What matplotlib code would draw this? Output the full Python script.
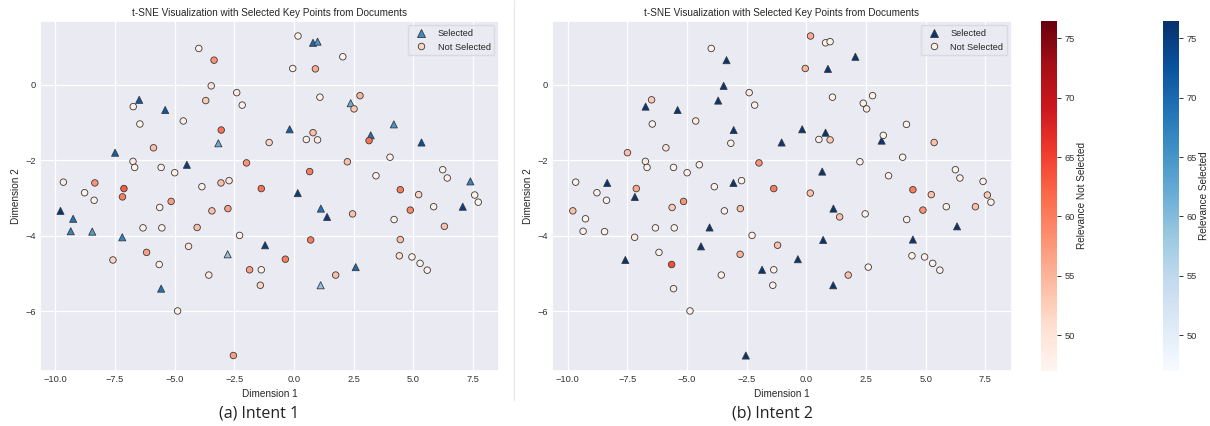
import numpy as np
import matplotlib
matplotlib.use("Agg")
import matplotlib.pyplot as plt
import seaborn as sns
from matplotlib.colors import Normalize
from matplotlib.cm import ScalarMappable
from matplotlib.lines import Line2D

sns.set_theme(style="darkgrid")
plt.rcParams['font.family'] = ['Liberation Sans', 'DejaVu Sans']

# ---- t-SNE coordinates (shared by both intents) ----
tsne_x = [-3.99, -3.35, -0.05, 0.17, -3.47, -3.70, -2.40, -2.17, -6.49, -6.74,
          -5.40, -6.46, -4.64, -3.05, -3.17, -1.04, -0.18, -7.50, -5.89, -6.75,
          -6.68, -5.57, -5.00, -4.49, -1.99, -9.67, -8.78, -8.35, -8.38, -7.13,
          -7.19, -3.86, -3.06, -2.72, -1.37, 0.16, -5.15, -5.63, -3.44, -2.77,
          -9.79, -9.26, -9.36, -8.46, -7.20, -7.59, -6.33, -5.54, -6.18, -5.65,
          -5.57, -4.88, -4.06, -4.42, -3.57, -2.28, -2.78, -1.86, -1.37, -1.41,
          -1.21, -0.36, -2.54, 0.80, 0.99, 2.05, 0.90, 1.09, 2.77, 2.38,
          2.52, 4.19, 0.80, 0.52, 0.99, 3.22, 3.15, 5.35, 4.03, 2.24,
          0.66, 3.44, 6.24, 6.43, 7.40, 4.46, 5.23, 7.58, 7.73, 5.86,
          7.08, 4.88, 1.13, 1.39, 2.46, 4.20, 6.31, 0.70, 4.46, 4.42,
          4.95, 5.29, 5.59, 2.59, 1.75, 1.12]
tsne_y = [0.96, 0.65, 0.43, 1.29, -0.03, -0.42, -0.21, -0.54, -0.40, -0.58,
          -0.67, -1.04, -0.96, -1.20, -1.55, -1.53, -1.18, -1.80, -1.67, -2.03,
          -2.19, -2.19, -2.33, -2.12, -2.07, -2.58, -2.86, -2.60, -3.06, -2.75,
          -2.97, -2.70, -2.60, -2.54, -2.75, -2.87, -3.09, -3.25, -3.34, -3.28,
          -3.34, -3.55, -3.88, -3.89, -4.04, -4.64, -3.79, -3.79, -4.44, -4.76,
          -5.40, -5.99, -3.78, -4.28, -5.04, -3.99, -4.49, -4.90, -4.90, -5.31,
          -4.25, -4.62, -7.17, 1.11, 1.14, 0.74, 0.42, -0.33, -0.29, -0.49,
          -0.64, -1.05, -1.27, -1.45, -1.46, -1.34, -1.48, -1.53, -1.92, -2.04,
          -2.30, -2.41, -2.25, -2.47, -2.56, -2.78, -2.91, -2.92, -3.11, -3.23,
          -3.23, -3.32, -3.28, -3.50, -3.42, -3.57, -3.75, -4.11, -4.10, -4.53,
          -4.56, -4.73, -4.91, -4.83, -5.04, -5.31]

# ---- Intent 1 ----
intent1_selected = [9, 11, 15, 17, 18, 24, 36, 41, 42, 43, 44, 45, 51, 57, 61,
                    64, 65, 70, 72, 76, 78, 85, 91, 93, 94, 104, 106]
intent1_relevance = [48, 58, 48, 48, 50, 53, 49, 48, 72, 48,
                     72, 48, 48, 61, 62, 52, 71, 71, 54, 49,
                     48, 48, 48, 75, 58, 49, 48, 58, 48, 63,
                     60, 48, 54, 50, 61, 75, 57, 48, 54, 57,
                     76, 69, 67, 64, 67, 52, 48, 48, 57, 48,
                     69, 48, 54, 50, 49, 48, 59, 57, 48, 52,
                     75, 60, 57, 70, 65, 48, 56, 48, 55, 62,
                     53, 65, 54, 48, 49, 69, 61, 73, 48, 54,
                     60, 48, 48, 48, 67, 60, 52, 48, 48, 48,
                     75, 59, 69, 75, 54, 48, 54, 60, 54, 51,
                     48, 48, 48, 70, 54, 59]

# ---- Intent 2 ----
intent2_selected = [2, 5, 6, 10, 11, 14, 16, 17, 28, 31, 33, 46, 53, 54, 58,
                    62, 63, 66, 67, 73, 77, 81, 93, 97, 98, 99, 106]
intent2_relevance = [48, 76, 55, 56, 76, 76, 49, 48, 53, 76,
                     76, 48, 49, 76, 48, 76, 76, 54, 50, 49,
                     48, 48, 48, 48, 58, 48, 48, 76, 48, 56,
                     76, 48, 76, 48, 60, 54, 58, 53, 48, 54,
                     54, 48, 48, 48, 49, 76, 48, 48, 48, 64,
                     49, 48, 76, 76, 48, 48, 55, 76, 48, 48,
                     54, 76, 76, 48, 48, 76, 76, 48, 48, 48,
                     49, 48, 76, 48, 53, 48, 76, 54, 48, 48,
                     76, 48, 48, 48, 48, 60, 54, 53, 48, 48,
                     54, 58, 76, 54, 48, 48, 76, 76, 76, 48,
                     48, 48, 48, 48, 54, 76]

captions = ["(a) Intent 1", "(b) Intent 2"]
title_text = "t-SNE Visualization with Selected Key Points from Documents"
x_ticks = [-10.0, -7.5, -5.0, -2.5, 0.0, 2.5, 5.0, 7.5]
y_ticks = [-6, -4, -2, 0]
cbar_ticks = [50, 55, 60, 65, 70, 75]
vmin, vmax = 47.0, 76.5

# legend swatch values (colour of the legend markers)
legend_values = [(66, 52), (76, 48)]

X = np.array(tsne_x)
Y = np.array(tsne_y)
norm = Normalize(vmin=vmin, vmax=vmax)
cm_sel = plt.get_cmap("Blues")
cm_not = plt.get_cmap("Reds")

W, H = 1210, 426
fig = plt.figure(figsize=(W / 100, H / 100), dpi=100)

def fx(px):
    return px / W

def fy(py):
    return 1 - py / H

ax_top, ax_bot = 20.7, 371.0
panels = [(40.0, 499.0), (552.3, 1011.7)]
edge = "#3a3a3a"
for i, (sel_idx, rel) in enumerate([(intent1_selected, intent1_relevance),
                                    (intent2_selected, intent2_relevance)]):
    l, r = panels[i]
    ax = fig.add_axes([fx(l), fy(ax_bot), (r - l) / W, (ax_bot - ax_top) / H])
    rel = np.array(rel, dtype=float)
    sel = np.zeros(len(X), dtype=bool)
    sel[np.array(sel_idx) - 1] = True
    ax.scatter(X[sel], Y[sel], c=rel[sel], cmap=cm_sel, norm=norm, marker="^",
               s=26, edgecolors=edge, linewidths=0.6, zorder=3)
    ax.scatter(X[~sel], Y[~sel], c=rel[~sel], cmap=cm_not, norm=norm, marker="o",
               s=22, edgecolors=edge, linewidths=0.6, zorder=4)
    ax.set_xlim(-10.65, 8.6)
    ax.set_ylim(-7.58, 1.695)
    ax.set_xticks(x_ticks)
    ax.set_xticklabels([f"{t:.1f}".replace("-", "\u2212") for t in x_ticks])
    ax.set_yticks(y_ticks)
    ax.set_yticklabels([f"{t}".replace("-", "\u2212") for t in y_ticks])
    ax.tick_params(labelsize=6.7, colors="#333333", pad=3.2, length=0)
    ax.set_xlabel("Dimension 1", fontsize=7.2, color="#262626", labelpad=3)
    ax.set_ylabel("Dimension 2", fontsize=7.2, color="#262626", labelpad=3)
    ax.set_title(title_text, fontsize=7.2, color="#262626", pad=3.7)
    ax.grid(True, color="white", linewidth=0.9)
    sv, nv = legend_values[i]
    handles = [Line2D([], [], linestyle="none", marker="^", markersize=np.sqrt(26),
                      markerfacecolor=cm_sel(norm(sv)), markeredgecolor=edge,
                      markeredgewidth=0.6, label="Selected"),
               Line2D([], [], linestyle="none", marker="o", markersize=np.sqrt(22),
                      markerfacecolor=cm_not(norm(nv)), markeredgecolor=edge,
                      markeredgewidth=0.6, label="Not Selected")]
    ax.legend(handles=handles, loc="upper right", fontsize=6.7, frameon=True,
              facecolor="#EAEAF2", edgecolor="#d5d5dc", framealpha=0.8)
    cx = (l + r) / 2
    fig.text(fx(cx - 10), fy(413), captions[i], fontsize=11.5, family="Open Sans",
             color="#222222", ha="center", va="center")

# divider between panels
fig.add_artist(Line2D([fx(514), fx(514)], [fy(0), fy(400)], color="#e6e6e6",
                      linewidth=0.8, transform=fig.transFigure))

# colorbars
for left, cmap, lab in [(1040.7, cm_not, "Relevance Not Selected"),
                        (1162.7, cm_sel, "Relevance Selected")]:
    cax = fig.add_axes([fx(left), fy(370.7), 16.6 / W, (370.7 - 20.7) / H])
    cb = fig.colorbar(ScalarMappable(norm=norm, cmap=cmap), cax=cax)
    cb.set_ticks(cbar_ticks)
    cb.outline.set_visible(False)
    cax.tick_params(labelsize=6.7, colors="#333333", length=3, width=0.7, pad=2,
                    right=True)
    cb.set_label(lab, fontsize=7.2, color="#262626", labelpad=2)

fig.savefig("out.png", dpi=100)
